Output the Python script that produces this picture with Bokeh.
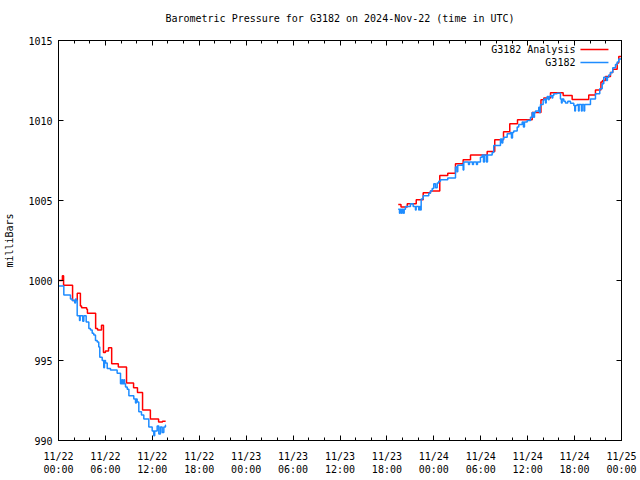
from bokeh.plotting import figure
from bokeh.models import FixedTicker, LinearAxis, Label, Range1d, CustomLabelingPolicy
from bokeh.embed import file_html
from bokeh.resources import INLINE

# time in hours since 2024-11-22 00:00 UTC, pressure in milliBars
analysis_day1 = [
    (0.0, 1000.0), (0.5, 1000.3), (0.65, 999.7), (1.8, 998.75), (2.4, 999.2),
    (2.8, 998.4), (2.95, 998.3), (3.6, 998.2), (3.7, 997.95), (4.75, 997.0),
    (5.0, 996.9), (5.5, 997.2), (5.75, 995.5), (6.0, 995.6), (6.4, 995.8),
    (6.8, 994.8), (7.65, 994.6), (8.7, 993.6), (9.6, 993.3), (10.1, 993.0),
    (10.75, 991.9), (11.75, 991.35), (12.8, 991.15), (13.3, 991.2), (13.7, 991.2),
]
station_day1 = [
    (0.0, 999.65), (0.68, 999.1), (1.53, 998.85), (1.75, 998.75), (2.08, 998.6),
    (2.17, 998.85), (2.3, 998.75), (2.39, 997.8), (2.69, 997.5), (2.77, 997.8),
    (3.1, 997.45), (3.24, 997.8), (3.54, 997.4), (3.88, 997.0), (4.09, 996.9),
    (4.31, 996.7), (4.51, 996.6), (4.73, 996.25), (4.95, 996.15), (5.15, 995.85),
    (5.28, 995.2), (5.59, 995.0), (5.79, 994.55), (5.88, 995.0), (6.01, 994.85),
    (6.23, 994.5), (6.65, 994.4), (7.5, 994.2), (7.93, 993.55), (8.1, 993.8),
    (8.2, 993.55), (8.35, 993.8), (8.45, 993.55), (8.57, 993.35), (8.79, 993.2),
    (9.0, 992.8), (9.63, 992.6), (9.85, 992.35), (9.95, 992.6), (10.06, 992.4),
    (10.27, 991.8), (10.61, 991.6), (10.91, 991.35), (11.55, 990.85), (11.98, 990.6),
    (12.19, 990.3), (12.3, 990.6), (12.62, 990.9), (12.83, 990.4), (13.04, 990.85),
    (13.26, 990.5), (13.47, 990.85), (13.68, 990.95), (13.75, 990.95),
]
analysis_day2 = [
    (43.45, 1004.75), (43.8, 1004.6), (44.6, 1004.8), (45.75, 1005.05), (46.64, 1005.48),
    (47.57, 1005.6), (48.76, 1006.56), (49.78, 1006.7), (50.77, 1007.3), (51.75, 1007.55),
    (52.69, 1007.85), (54.82, 1008.06), (55.79, 1008.8), (56.91, 1009.3), (57.71, 1009.8),
    (58.7, 1010.04), (60.58, 1010.5), (61.7, 1011.3), (62.06, 1011.4), (62.92, 1011.73),
    (64.54, 1011.56), (65.69, 1011.31), (67.81, 1011.6), (68.67, 1011.9), (69.37, 1012.4),
    (69.57, 1012.5), (69.95, 1012.75), (70.59, 1013.0), (70.88, 1013.2), (71.45, 1013.6),
    (71.65, 1014.0), (72.0, 1014.0),
]
station_day2 = [
    (43.44, 1004.45), (43.61, 1004.2), (43.7, 1004.45), (43.86, 1004.2), (43.95, 1004.45),
    (44.12, 1004.2), (44.21, 1004.45), (44.37, 1004.62), (45.01, 1004.8), (45.36, 1004.62),
    (45.65, 1004.4), (45.74, 1004.62), (46.07, 1004.4), (46.16, 1004.62), (46.29, 1004.4),
    (46.38, 1005.1), (46.64, 1005.3), (47.35, 1005.46), (47.57, 1005.6), (47.79, 1005.75),
    (47.99, 1006.04), (48.21, 1005.8), (48.43, 1006.1), (48.63, 1006.2), (48.85, 1006.3),
    (49.78, 1006.4), (50.77, 1007.1), (50.98, 1006.8), (51.06, 1007.2), (51.62, 1007.25),
    (51.75, 1006.9), (51.83, 1007.4), (52.43, 1007.25), (52.56, 1007.4), (52.94, 1007.25),
    (53.07, 1007.4), (53.45, 1007.25), (53.58, 1007.4), (53.96, 1007.7), (54.18, 1007.85),
    (54.35, 1007.4), (54.48, 1007.85), (54.73, 1007.4), (54.86, 1007.85), (55.46, 1008.0),
    (55.66, 1008.44), (56.52, 1008.85), (56.71, 1008.6), (56.82, 1008.85), (56.94, 1008.95),
    (57.38, 1009.17), (57.8, 1009.25), (57.93, 1008.9), (58.06, 1009.25), (58.22, 1009.35),
    (58.66, 1009.6), (58.86, 1009.75), (59.3, 1009.9), (59.46, 1009.6), (59.59, 1009.9),
    (59.94, 1010.0), (60.36, 1010.2), (60.58, 1010.5), (60.74, 1010.2), (60.87, 1010.5),
    (61.0, 1010.6), (61.42, 1010.83), (61.51, 1010.5), (61.6, 1010.83), (61.64, 1011.0),
    (61.98, 1011.25), (62.06, 1011.35), (62.28, 1011.1), (62.37, 1011.35), (62.49, 1011.5),
    (62.66, 1011.3), (62.75, 1011.5), (62.92, 1011.56), (63.11, 1011.4), (63.21, 1011.56),
    (63.34, 1011.67), (63.77, 1011.7), (64.19, 1011.35), (64.32, 1011.1), (64.41, 1011.35),
    (64.62, 1011.2), (64.83, 1011.1), (65.13, 1011.2), (65.47, 1011.08), (65.9, 1010.94),
    (66.02, 1010.6), (66.11, 1010.94), (66.33, 1011.0), (66.5, 1010.6), (66.58, 1011.0),
    (66.88, 1010.6), (66.97, 1011.0), (67.2, 1010.6), (67.29, 1011.0), (68.03, 1011.35),
    (68.67, 1011.67), (69.22, 1011.98), (69.53, 1012.3), (69.73, 1012.7), (70.08, 1012.5),
    (70.2, 1012.7), (70.37, 1012.85), (70.59, 1013.0), (70.88, 1013.3), (71.23, 1013.5),
    (71.45, 1013.65), (71.65, 1013.85), (71.94, 1013.85),
]

tick_hours = [0, 6, 12, 18, 24, 30, 36, 42, 48, 54, 60, 66, 72]
tick_labels = ["11/22\n00:00", "11/22\n06:00", "11/22\n12:00", "11/22\n18:00",
               "11/23\n00:00", "11/23\n06:00", "11/23\n12:00", "11/23\n18:00",
               "11/24\n00:00", "11/24\n06:00", "11/24\n12:00", "11/24\n18:00",
               "11/25\n00:00"]
minor_tick_hours = list(range(0, 73, 2))
pressure_ticks = [990, 995, 1000, 1005, 1010, 1015]

RED = "#ff0000"
BLUE = "#1e8cff"
FONT = "DejaVu Sans Mono"
FS = "10px"

p = figure(width=640, height=480, output_backend="svg", toolbar_location=None,
           x_range=Range1d(0, 72), y_range=Range1d(990, 1015),
           min_border_left=58, min_border_right=19, min_border_top=40, min_border_bottom=40,
           title="Barometric Pressure for G3182 on 2024-Nov-22 (time in UTC)")
p.title.align = "center"
p.title.text_font = FONT
p.title.text_font_size = FS
p.title.text_font_style = "normal"
p.title.text_color = "black"
p.title.standoff = 11
p.xgrid.visible = False
p.ygrid.visible = False
p.outline_line_color = "black"
p.outline_line_width = 1
p.background_fill_color = "white"
p.border_fill_color = "white"

xt = FixedTicker(ticks=tick_hours, minor_ticks=minor_tick_hours)
yt = FixedTicker(ticks=pressure_ticks, minor_ticks=[])

no_labels = CustomLabelingPolicy(code="""
for (let i = 0; i < indices.size; i++) { indices.unset(i) }
return indices
""")

def style(ax, labels=True, label_size=FS):
    ax.major_tick_in = 5
    ax.major_tick_out = 0
    ax.minor_tick_in = 3
    ax.minor_tick_out = 0
    ax.axis_line_color = "black"
    ax.major_tick_line_color = "black"
    ax.minor_tick_line_color = "black"
    ax.major_label_text_font = FONT
    ax.major_label_text_font_size = label_size
    ax.major_label_text_color = "black"
    if not labels:
        ax.major_label_policy = no_labels
        ax.major_label_standoff = 0

xa = p.xaxis[0]
xa.ticker = xt
xa.major_label_overrides = {h: lab for h, lab in zip(tick_hours, tick_labels)}
style(xa)
xa.major_label_standoff = 10

ya = p.yaxis[0]
ya.ticker = yt
style(ya)
ya.major_label_standoff = 6
ya.axis_label = "milliBars"
ya.axis_label_text_font = FONT
ya.axis_label_text_font_size = FS
ya.axis_label_text_font_style = "normal"
ya.axis_label_text_color = "black"
ya.axis_label_standoff = 10

top = LinearAxis(ticker=xt)
style(top, labels=False)
p.add_layout(top, "above")
right = LinearAxis(ticker=yt)
style(right, labels=False, label_size="0px")
p.add_layout(right, "right")

for data, color in ((analysis_day1, RED), (analysis_day2, RED),
                    (station_day1, BLUE), (station_day2, BLUE)):
    t, v = zip(*data)
    p.step(list(t), list(v), mode="after", line_color=color, line_width=1.5)

# legend (gnuplot style: label, then sample line)
legend_entries = [("G3182 Analysis", RED, 1014.44), ("G3182", BLUE, 1013.63)]
for text, color, yv in legend_entries:
    p.add_layout(Label(x=66.11, y=yv, text=text, text_align="right", text_baseline="middle",
                       text_font=FONT, text_font_size=FS, text_color="black"))
    p.line([66.75, 70.33], [yv, yv], line_color=color, line_width=1.5)

open("out.html", "w").write(file_html(p, INLINE))
